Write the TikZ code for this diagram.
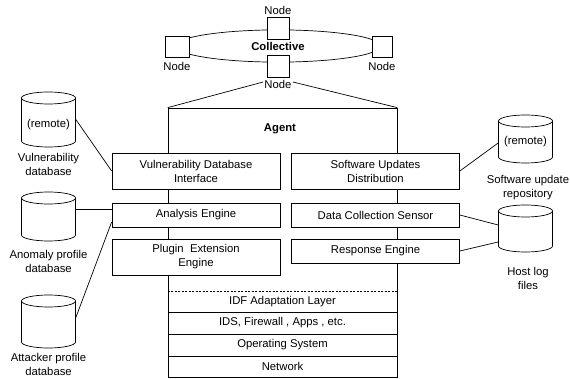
\documentclass[tikz,border=0pt]{standalone}
\usepackage{fontspec}
\setmainfont{Liberation Sans}
\newcommand\dbcyl[4]{%
  \node[minimum width=54pt, minimum height={(#4-#3)*1pt}, inner sep=0pt] (#1) at (#2,{-(#3+#4)/2}) {};
  \draw ({#2},{-#3-6}) ellipse [x radius=27pt, y radius=6pt];
  \draw ({#2-27},{-#3-6}) -- ({#2-27},{-#4+6}) arc [start angle=180, end angle=360, x radius=27pt, y radius=6pt] -- ({#2+27},{-#3-6});
}
\begin{document}
\begin{tikzpicture}[x=1pt,y=1pt, line width=0.7pt,
  font=\fontsize{11.3}{14}\selectfont,
  box/.style={draw, fill=white, minimum width=168pt, inner sep=0pt, align=center},
  nodebox/.style={draw, fill=white, minimum width=22pt, minimum height=22pt, inner sep=0pt},
  lbl/.style={inner sep=1pt, align=center},
  layer/.style={minimum width=229pt, inner sep=0pt},
  ]
\useasboundingbox (0,0) rectangle (570,-379);

% Collective ring
\draw (278,-46) ellipse [x radius=102.6pt, y radius=16.1pt];
\node[nodebox, minimum width=24pt, minimum height=21pt] (nl) at (177,-46.5) {};
\node[nodebox] (nt) at (278,-28) {};
\node[nodebox, minimum width=20pt, minimum height=21pt] (nr) at (382,-46.5) {};
\node[nodebox] (nb) at (278,-66) {};
\node[lbl] (ntl) at (278,-10) {Node};
\node[lbl] (nll) at (177,-66) {Node};
\node[lbl] (nrl) at (382,-66) {Node};
\node[lbl] (nbl) at (278,-84) {Node};
\node[lbl, font=\fontsize{11.3}{14}\selectfont\bfseries] (coll) at (278,-46) {Collective};

% Agent
\node[draw, minimum width=229pt, minimum height=269pt, inner sep=0pt] (agent) at (282.5,-242.5) {};
\draw ([yshift=2pt]nbl.west) -- (agent.north west);
\draw ([yshift=2pt]nbl.east) -- (agent.north east);
\node[lbl, font=\fontsize{11.3}{14}\selectfont\bfseries] (agentl) at (280,-129) {Agent};

\node[box, minimum height=36pt] (vdi) at (196,-171) {Vulnerability Database\\Interface};
\node[box, minimum height=36pt] (sud) at (375.5,-171) {Software Updates\\Distribution};
\node[box, minimum height=24pt] (ae) at (196,-215) {Analysis Engine};
\node[box, minimum height=24pt] (dcs) at (375.5,-215) {Data Collection Sensor};
\node[box, minimum height=36pt] (pee) at (196,-257) {Plugin\ \ Extension\\Engine};
\node[box, minimum height=24pt] (re) at (375.5,-251) {Response Engine};

% Layers
\node[layer, minimum height=20pt] (idf) at (282.5,-302) {IDF Adaptation Layer};
\draw[dashed, dash pattern=on 2pt off 1.5pt] (idf.north west) -- (idf.north east);
\node[layer, draw, minimum height=22pt] (ids) at (282.5,-323) {IDS, Firewall , Apps , etc.};
\node[layer, draw, minimum height=22pt] (os) at (282.5,-345) {Operating System};
\node[layer, draw, minimum height=21pt] (net) at (282.5,-366.5) {Network};

% Databases
\dbcyl{vdb}{48.5}{92}{147}
\node[lbl] (vdbt) at (48.5,-125) {(remote)};
\node[lbl] (vdbl) at (48.5,-164) {Vulnerability\\database};
\dbcyl{adb}{48.5}{192}{241}
\node[lbl] (adbl) at (48.5,-261) {Anomaly profile\\database};
\dbcyl{atk}{48.5}{295}{348}
\node[lbl] (atkl) at (48.5,-364.5) {Attacker profile\\database};
\dbcyl{sur}{525.5}{115}{163}
\node[lbl] (surt) at (525.5,-142) {(remote)};
\node[lbl] (surl) at (528,-187.5) {Software update\\repository};
\dbcyl{hlf}{525.5}{205}{252}
\node[lbl] (hlfl) at (528,-278) {Host log\\files};

% Connectors
\draw (vdb.east) -- (vdi.west);
\draw ([yshift=6pt]ae.west -| adb.east) -- ([yshift=6pt]ae.west);
\draw ([yshift=4pt]atk.east) -- ([yshift=-7pt]ae.west);
\draw (sud.east) -- ([yshift=-4pt]sur.west);
\draw (dcs.east) -- ([yshift=3.5pt]hlf.west);
\draw (re.east) -- ([yshift=-13.5pt]hlf.west);
\end{tikzpicture}
\end{document}
